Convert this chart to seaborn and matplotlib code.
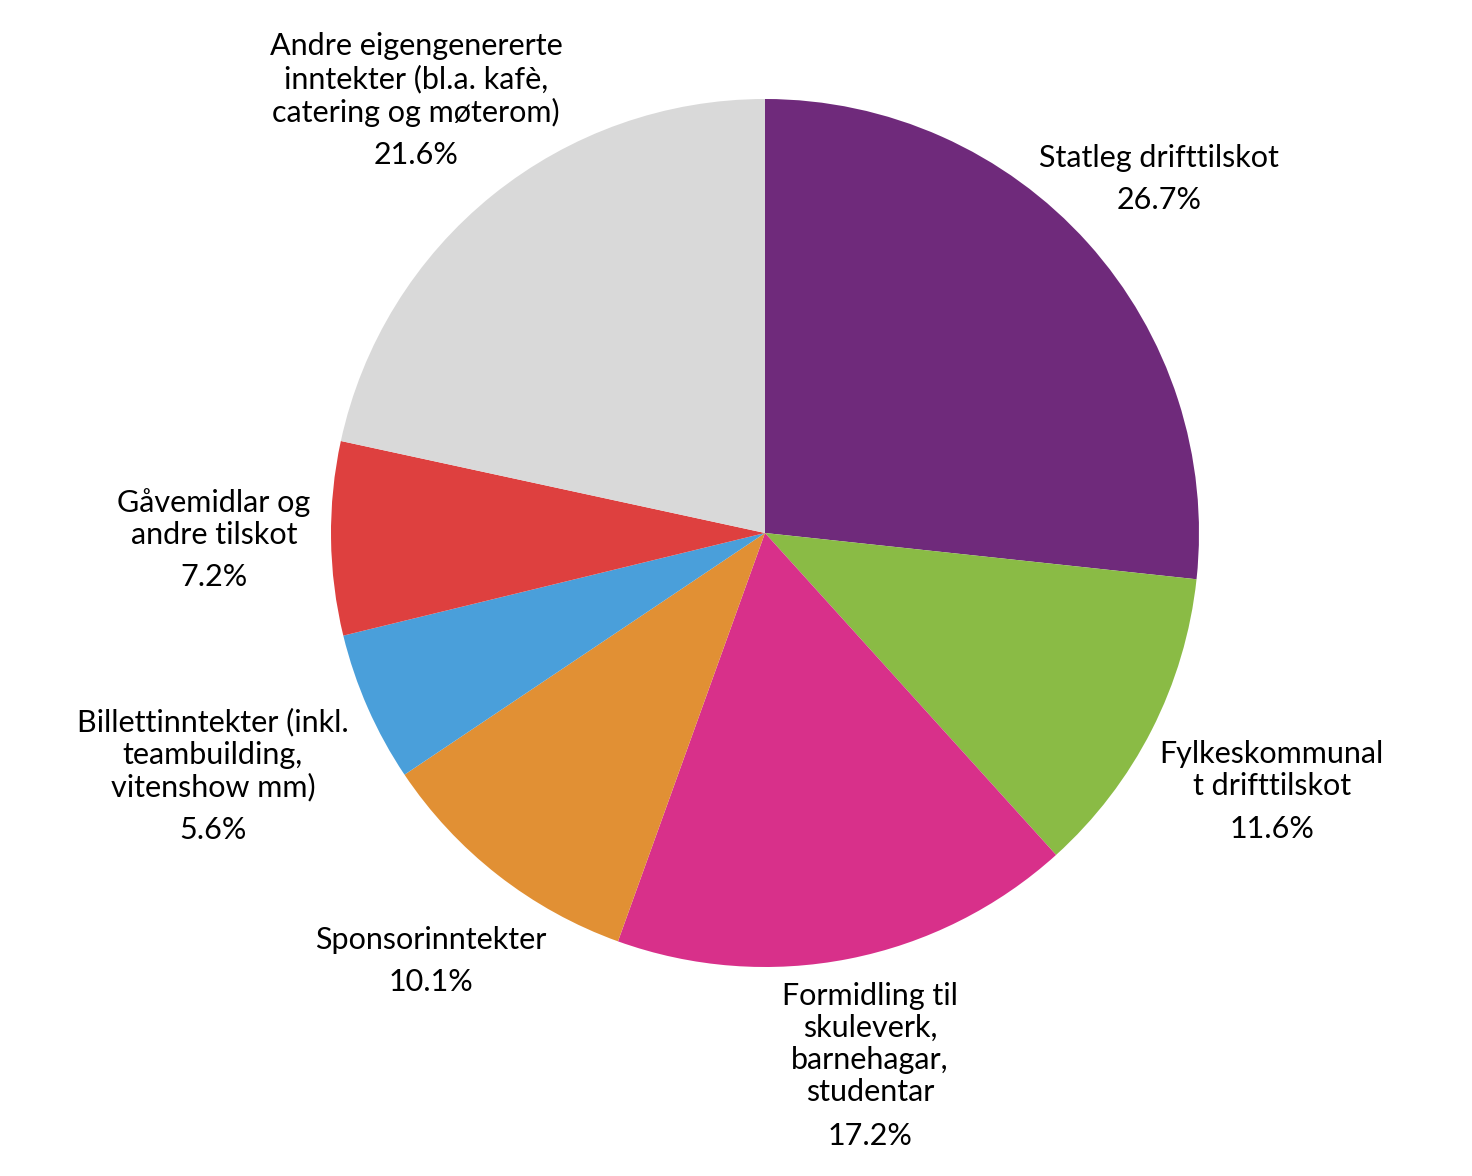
import matplotlib
matplotlib.use("Agg")
import matplotlib.pyplot as plt
import seaborn as sns
import numpy as np

# Data
categories = [
    "Statleg drifttilskot",
    "Fylkeskommunal\nt drifttilskot",
    "Formidling til\nskuleverk,\nbarnehagar,\nstudentar",
    "Sponsorinntekter",
    "Billettinntekter (inkl.\nteambuilding,\nvitenshow mm)",
    "Gåvemidlar og\nandre tilskot",
    "Andre eigengenererte\ninntekter (bl.a. kafè,\ncatering og møterom)",
]
shares = [26.7, 11.6, 17.2, 10.1, 5.6, 7.2, 21.6]
colors = ["#6F2A7B", "#8ABB45", "#D8308A", "#E19034", "#4A9FDA", "#DE403F", "#D9D9D9"]
label_dist = [1.22, 1.31, 1.25, 1.25, 1.39, 1.27, 1.28]

sns.set_theme(style="white")
plt.rcParams['font.family'] = ['Lato', 'DejaVu Sans']

W, H = 1472, 1176
fig = plt.figure(figsize=(W / 100, H / 100), dpi=100)
cx, cy, r = 765, 533, 434
ax = fig.add_axes([(cx - r) / W, (H - cy - r) / H, 2 * r / W, 2 * r / H])

wedges, _ = ax.pie(shares, colors=colors, startangle=90, counterclock=False,
                   radius=1, wedgeprops=dict(linewidth=0))

line_px, gap_px = 33, 42
for w, lab, val, d in zip(wedges, categories, shares, label_dist):
    ang = np.deg2rad((w.theta1 + w.theta2) / 2)
    x, y = d * np.cos(ang), d * np.sin(ang)
    n = lab.count("\n") + 1
    total = line_px * (n - 1) + gap_px
    # name block above, percentage below, whole block centred on the anchor
    ax.annotate(lab, (x, y), xytext=(0, gap_px / 2 * 0.72), textcoords="offset points",
                ha="center", va="center", fontsize=22, linespacing=1.18,
                color="black", annotation_clip=False)
    ax.annotate(f"{val:.1f}%", (x, y), xytext=(0, -(total / 2) * 0.72),
                textcoords="offset points", ha="center", va="center",
                fontsize=22, color="black", annotation_clip=False)

ax.set_xlim(-1, 1)
ax.set_ylim(-1, 1)
ax.set_aspect("equal")
ax.axis("off")

fig.savefig("out.png", dpi=100, facecolor="white")
